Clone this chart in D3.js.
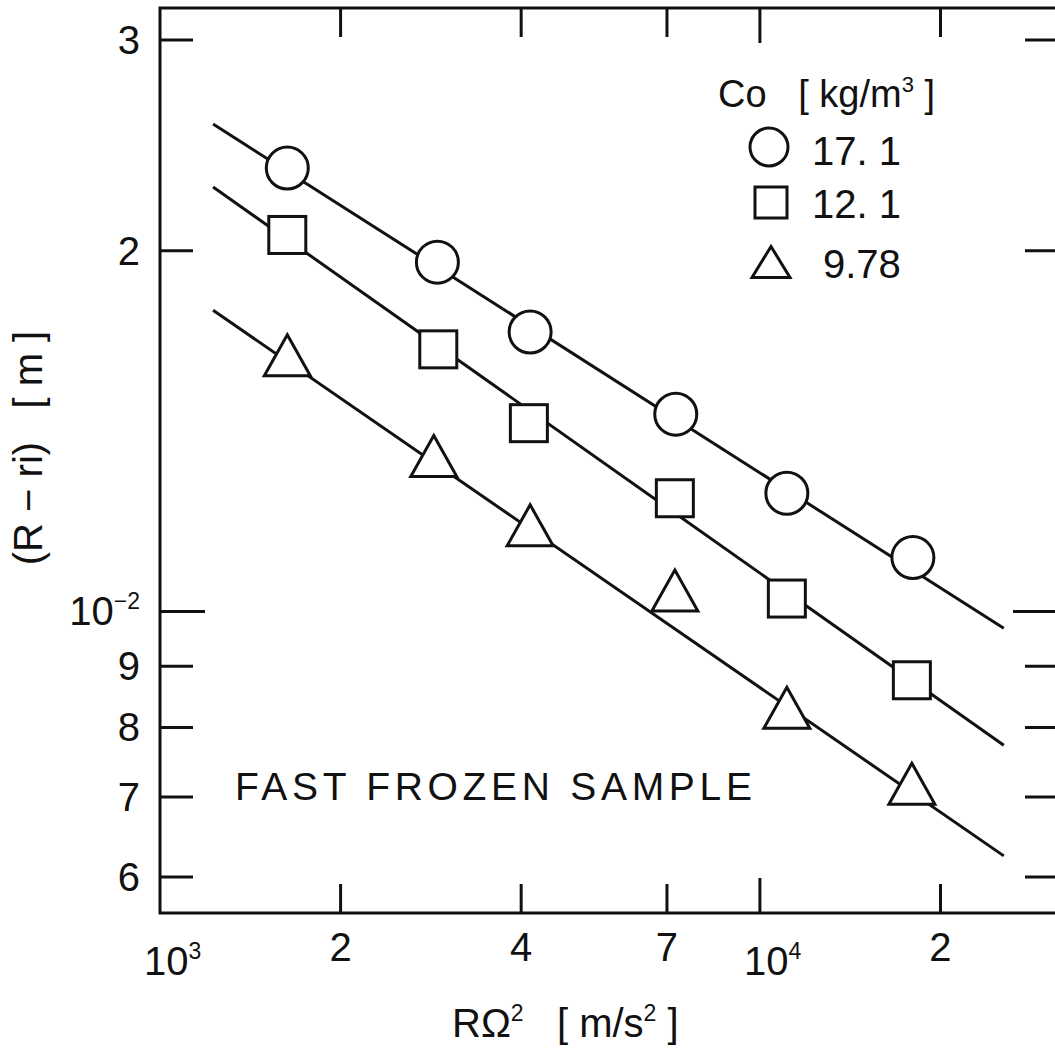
<!DOCTYPE html>
<html>
<head>
<meta charset="utf-8">
<script src="https://cdn.jsdelivr.net/npm/d3@7"></script>
<style>
  body { margin: 0; background: #fff; }
  svg text { font-family: "Liberation Sans", Arial, sans-serif; fill: #111; white-space: pre; }
  .frame, .tick { stroke: #111; stroke-width: 3; fill: none; }
  .fit { stroke: #111; stroke-width: 3; fill: none; }
  .mark { stroke: #111; stroke-width: 3; fill: #fff; }
</style>
</head>
<body>
<div id="chart"></div>
<script>
// axis ticks
var xTicks = [1000, 2000, 4000, 7000, 10000, 20000];
var xTickLabels = [["10", "3"], ["2"], ["4"], ["7"], ["10", "4"], ["2"]];
var yTicks = [0.006, 0.007, 0.008, 0.009, 0.01, 0.02, 0.03];
var yTickLabels = [["6"], ["7"], ["8"], ["9"], ["10", "\u22122"], ["2"], ["3"]];

// series: Co [kg/m3]
var seriesNames = ["17. 1", "12. 1", "9.78"];
var circleX = [1630, 2900, 4140, 7240, 11090, 17990];
var circleY = [0.02345, 0.01957, 0.01711, 0.01461, 0.01255, 0.01109];
var squareX = [1630, 2910, 4120, 7215, 11090, 17920];
var squareY = [0.02062, 0.01655, 0.01436, 0.01243, 0.01025, 0.00876];
var triangleX = [1630, 2860, 4140, 7215, 11090, 17920];
var triangleY = [0.01636, 0.01348, 0.01180, 0.01041, 0.00831, 0.00718];

// fitted lines (end points)
var fitX = [1226, 25500];
var circleFit = [0.02552, 0.00968];
var squareFit = [0.02261, 0.00773];
var triangleFit = [0.01784, 0.00625];

var width = 1055, height = 1056;
var mLeft = 160, mRight = 1058, mTop = 8, mBottom = 913;

var x = d3.scaleLog().domain([1000, 31400]).range([mLeft, mRight]);
var y = d3.scaleLog().domain([0.0056, 0.0319]).range([mBottom, mTop]);

var svg = d3.select("#chart").append("svg")
    .attr("width", width)
    .attr("height", height);

svg.append("rect").attr("width", width).attr("height", height).attr("fill", "#fff");

// frame
svg.append("rect").attr("class", "frame")
    .attr("x", mLeft).attr("y", mTop)
    .attr("width", mRight - mLeft).attr("height", mBottom - mTop);

// x ticks, bottom and top, pointing inward
xTicks.forEach(function(v) {
    if (v === 1000) return;
    var len = v === 10000 ? 35 : 29;
    svg.append("line").attr("class", "tick")
        .attr("x1", x(v)).attr("x2", x(v))
        .attr("y1", mBottom).attr("y2", mBottom - len);
    svg.append("line").attr("class", "tick")
        .attr("x1", x(v)).attr("x2", x(v))
        .attr("y1", mTop).attr("y2", mTop + len);
});

// y ticks, left and right
yTicks.forEach(function(v) {
    var len = v === 0.01 ? 45 : 33;
    svg.append("line").attr("class", "tick")
        .attr("x1", mLeft).attr("x2", mLeft + len)
        .attr("y1", y(v)).attr("y2", y(v));
    svg.append("line").attr("class", "tick")
        .attr("x1", mRight).attr("x2", mRight - len)
        .attr("y1", y(v)).attr("y2", y(v));
});

// x tick labels
xTicks.forEach(function(v, i) {
    var lab = xTickLabels[i];
    var t = svg.append("text").attr("font-size", 40);
    if (lab.length === 2) {
        t.attr("x", x(v) - 16).attr("y", 975).attr("text-anchor", "start");
        t.append("tspan").text(lab[0]);
        t.append("tspan").attr("font-size", 23).attr("dy", -16).text(lab[1]);
    } else {
        t.attr("x", x(v)).attr("y", 961).attr("text-anchor", "middle").text(lab[0]);
    }
});

// y tick labels
yTicks.forEach(function(v, i) {
    var lab = yTickLabels[i];
    var t = svg.append("text").attr("font-size", 40)
        .attr("x", 140).attr("y", y(v) + 14).attr("text-anchor", "end");
    t.append("tspan").text(lab[0]);
    if (lab.length === 2) {
        t.append("tspan").attr("font-size", 23).attr("dy", -16).text(lab[1]);
    }
});

// fitted lines
var line = d3.line().x(function(d) { return x(d[0]); }).y(function(d) { return y(d[1]); });
[circleFit, squareFit, triangleFit].forEach(function(f) {
    svg.append("path").attr("class", "fit")
        .attr("d", line(fitX.map(function(xv, i) { return [xv, f[i]]; })));
});

function triPath(cx, cy, b, h) {
    return "M" + cx + "," + (cy - h / 2) + "L" + (cx + b / 2) + "," + (cy + h / 2) +
        "L" + (cx - b / 2) + "," + (cy + h / 2) + "Z";
}

// markers
svg.append("g").selectAll("circle")
    .data(circleX.map(function(v, i) { return [v, circleY[i]]; }))
    .enter().append("circle").attr("class", "mark")
    .attr("cx", function(d) { return x(d[0]); })
    .attr("cy", function(d) { return y(d[1]); })
    .attr("r", 21);

svg.append("g").selectAll("rect")
    .data(squareX.map(function(v, i) { return [v, squareY[i]]; }))
    .enter().append("rect").attr("class", "mark")
    .attr("x", function(d) { return x(d[0]) - 18.5; })
    .attr("y", function(d) { return y(d[1]) - 18.5; })
    .attr("width", 37).attr("height", 37);

svg.append("g").selectAll("path")
    .data(triangleX.map(function(v, i) { return [v, triangleY[i]]; }))
    .enter().append("path").attr("class", "mark")
    .attr("d", function(d) { return triPath(x(d[0]), y(d[1]), 46, 41); });

// legend
var lg = svg.append("g");
var head = lg.append("text").attr("x", 718).attr("y", 107).attr("font-size", 38);
head.append("tspan").text("Co   [ kg/m");
head.append("tspan").attr("font-size", 22).attr("dy", -15).text("3");
head.append("tspan").attr("dy", 15).text(" ]");

lg.append("circle").attr("class", "mark").attr("cx", 769).attr("cy", 147).attr("r", 19);
lg.append("rect").attr("class", "mark").attr("x", 755).attr("y", 187).attr("width", 32).attr("height", 31);
lg.append("path").attr("class", "mark").attr("d", triPath(771, 262, 38, 31));

var legY = [165, 218, 278];
var legX = [812, 812, 823];
seriesNames.forEach(function(s, i) {
    lg.append("text").attr("x", legX[i]).attr("y", legY[i]).attr("font-size", 40).text(s);
});

// annotation
svg.append("text").attr("x", 235).attr("y", 800).attr("font-size", 39)
    .attr("textLength", 517).attr("lengthAdjust", "spacing")
    .text("FAST FROZEN SAMPLE");

// x axis title
var xt = svg.append("text").attr("x", 452).attr("y", 1037).attr("font-size", 40);
xt.append("tspan").text("R\u03a9");
xt.append("tspan").attr("font-size", 23).attr("dy", -16).text("2");
xt.append("tspan").attr("dy", 16).text("   [ m/s");
xt.append("tspan").attr("font-size", 23).attr("dy", -16).text("2");
xt.append("tspan").attr("dy", 16).text(" ]");

// y axis title
svg.append("text")
    .attr("transform", "translate(42,448) rotate(-90)")
    .attr("text-anchor", "middle").attr("font-size", 40)
    .text("(R \u2212 ri)   [ m ]");
</script>
</body>
</html>
